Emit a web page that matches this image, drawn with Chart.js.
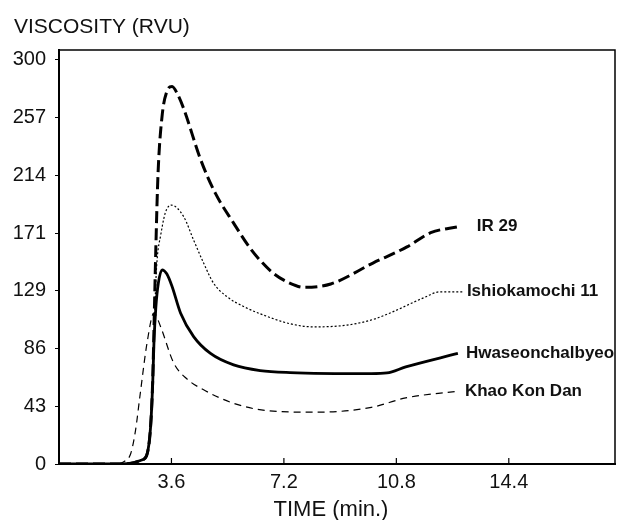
<!DOCTYPE html>
<html>
<head>
<meta charset="utf-8">
<script src="https://cdn.jsdelivr.net/npm/chart.js@4.4.0/dist/chart.umd.min.js"></script>
<style>
html, body { margin: 0; padding: 0; background: #fff; }
#wrap { width: 621px; height: 520px; }
</style>
</head>
<body>
<div id="wrap"><canvas id="chart0"></canvas></div>
<script>
// tick labels
var xTicks = [3.6, 7.2, 10.8, 14.4];
var yTicks = [0, 43, 86, 129, 171, 214, 257, 300];

// [time (min), viscosity (RVU)]
var ir29 = [[0,0],[2.0,0],[2.4,1],[2.65,3],[2.8,6],[2.93,27],[3.0,62],[3.05,110],[3.1,160],[3.17,215],[3.3,258],[3.45,276],[3.62,280],[3.8,274],[4.0,263],[4.53,226],[5.0,201],[5.58,179],[6.12,160],[6.44,151],[6.86,141.5],[7.35,134.5],[7.85,131],[8.7,133.5],[10.05,149],[11.14,161],[11.9,171.5],[12.8,176]];
var ishiokamochi = [[0,0],[2.0,0],[2.4,1],[2.65,3],[2.8,6],[2.93,27],[3.0,60],[3.05,100],[3.1,135],[3.15,154],[3.25,169],[3.4,186],[3.59,192],[3.99,183.5],[4.31,166],[4.63,149],[4.95,134],[5.38,124],[5.91,116.8],[6.44,111.4],[7.4,104],[8.14,101.7],[9.22,103],[10.1,107.5],[10.7,113],[11.65,123],[12.2,127.7],[12.93,127.7]];
var hwaseon = [[0,0],[2.0,0],[2.4,1],[2.65,3],[2.8,6],[2.93,27],[3.0,60],[3.04,90],[3.1,116],[3.18,134],[3.3,144],[3.45,141],[3.62,131.6],[3.89,112],[4.31,94.5],[4.85,82],[5.59,73.5],[6.44,69.3],[7.4,67.8],[10.0,67],[10.5,67.5],[11.1,72],[12.77,82]];
var khao = [[0,0],[1.8,0],[2.1,2],[2.3,8],[2.45,25],[2.6,52],[2.82,90],[3.04,112],[3.25,102],[3.67,75],[4.1,63],[4.63,55],[5.59,45],[6.66,39.6],[8.26,38.4],[10.0,42],[11.1,49],[12.77,54]];

var seriesNames = ["IR 29", "Ishiokamochi 11", "Hwaseonchalbyeo", "Khao Kon Dan"];

function toPoints(arr) {
	return arr.map(p => ({x: p[0], y: p[1]}));
}

var sans = "'Liberation Sans', Arial, sans-serif";
var labelGap = [18, 4, 8, 7];

var extras = {
	id: "extras",
	afterDraw(chart) {
		var ctx = chart.ctx;
		var a = chart.chartArea;
		var xs = chart.scales.x;
		ctx.save();
		// frame top and right
		ctx.strokeStyle = "#000";
		ctx.lineWidth = 1.5;
		ctx.beginPath();
		ctx.moveTo(a.left, a.top);
		ctx.lineTo(a.right, a.top);
		ctx.lineTo(a.right, a.bottom);
		ctx.stroke();
		// inward x ticks
		ctx.lineWidth = 1.2;
		xTicks.forEach(function (t) {
			var px = xs.getPixelForValue(t);
			ctx.beginPath();
			ctx.moveTo(px, a.bottom);
			ctx.lineTo(px, a.bottom - 6);
			ctx.stroke();
		});
		// titles
		ctx.fillStyle = "#111";
		ctx.font = "21px " + sans;
		ctx.textBaseline = "middle";
		ctx.textAlign = "left";
		ctx.fillText("VISCOSITY (RVU)", 14, 27);
		ctx.font = "22px " + sans;
		ctx.textAlign = "center";
		ctx.fillText("TIME (min.)", 331, 510);
		// curve labels
		ctx.font = "bold 17px " + sans;
		ctx.textAlign = "left";
		chart.data.datasets.forEach(function (ds, i) {
			var meta = chart.getDatasetMeta(i);
			var last = meta.data[meta.data.length - 1];
			ctx.fillText(ds.label, last.x + labelGap[i], last.y);
		});
		ctx.restore();
	}
};

var chart0 = new Chart("chart0", {
	type: "line",
	data: {
		datasets: [
			{
				label: seriesNames[0],
				data: toPoints(ir29),
				borderColor: "#000",
				borderWidth: 3,
				borderDash: [12, 5],
				fill: false
			},
			{
				label: seriesNames[1],
				data: toPoints(ishiokamochi),
				borderColor: "#000",
				borderWidth: 1.2,
				borderDash: [2, 2],
				fill: false
			},
			{
				label: seriesNames[2],
				data: toPoints(hwaseon),
				borderColor: "#000",
				borderWidth: 2.8,
				fill: false
			},
			{
				label: seriesNames[3],
				data: toPoints(khao),
				borderColor: "#000",
				borderWidth: 1.2,
				borderDash: [7, 5],
				fill: false
			}
		]
	},
	options: {
		responsive: true,
		maintainAspectRatio: false,
		animation: false,
		layout: { padding: { top: 50, right: 6, left: 0, bottom: 0 } },
		elements: {
			point: { radius: 0 },
			line: { cubicInterpolationMode: "monotone" }
		},
		plugins: {
			legend: { display: false },
			tooltip: { enabled: false }
		},
		scales: {
			x: {
				type: "linear",
				min: 0,
				max: 17.8,
				afterBuildTicks: function (s) { s.ticks = xTicks.map(v => ({value: v})); },
				afterFit: function (s) { s.height = 56; },
				grid: { display: true, drawOnChartArea: false, drawTicks: false },
				border: { color: "#000", width: 2 },
				ticks: {
					padding: 6,
					color: "#111",
					font: { family: sans, size: 20 },
					maxRotation: 0,
					callback: v => v.toFixed(1)
				}
			},
			y: {
				min: 0,
				max: 307,
				afterBuildTicks: function (s) { s.ticks = yTicks.map(v => ({value: v})); },
				afterFit: function (s) { s.width = 59; },
				grid: { drawOnChartArea: false, tickLength: 4, color: "#000" },
				border: { color: "#000", width: 2 },
				ticks: {
					padding: 9,
					color: "#111",
					font: { family: sans, size: 20 }
				}
			}
		}
	},
	plugins: [extras]
});
</script>
</body>
</html>
